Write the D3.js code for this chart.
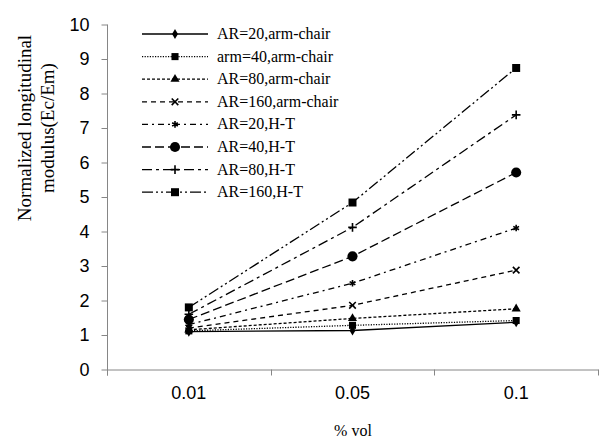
<!DOCTYPE html>
<html><head><meta charset="utf-8">
<script src="https://cdn.jsdelivr.net/npm/d3@7"></script>
<style>body{margin:0;background:#fff}svg{display:block}</style>
</head><body>
<svg id="c" width="600" height="440"></svg>
<script>
const categories = ["0.01", "0.05", "0.1"];
const yTicks = [0,1,2,3,4,5,6,7,8,9,10];
const seriesNames = ["AR=20,arm-chair","arm=40,arm-chair","AR=80,arm-chair","AR=160,arm-chair","AR=20,H-T","AR=40,H-T","AR=80,H-T","AR=160,H-T"];
const ar20Arm  = [1.10, 1.13, 1.37];
const arm40Arm = [1.12, 1.28, 1.42];
const ar80Arm  = [1.15, 1.48, 1.76];
const ar160Arm = [1.20, 1.86, 2.88];
const ar20HT   = [1.30, 2.50, 4.10];
const ar40HT   = [1.45, 3.28, 5.71];
const ar80HT   = [1.60, 4.12, 7.38];
const ar160HT  = [1.80, 4.84, 8.74];
const seriesValues = [ar20Arm, arm40Arm, ar80Arm, ar160Arm, ar20HT, ar40HT, ar80HT, ar160HT];

const styles = [
  {dash:null, sym:d3.symbolDiamond, size:30},
  {dash:"1.2 1.4", sym:d3.symbolSquare, size:50},
  {dash:"3 2", sym:d3.symbolTriangle, size:36},
  {dash:"5 4", sym:d3.symbolTimes, size:30, stroke:true},
  {dash:"6 4 2 4", sym:d3.symbolAsterisk, size:30, stroke:true},
  {dash:"9 4", sym:d3.symbolCircle, size:80},
  {dash:"10 4 3 4", sym:d3.symbolPlus, size:26, stroke:true},
  {dash:"11 3 2 3 2 3", sym:d3.symbolSquare, size:64}
];

const svg = d3.select("#c");
const x = d3.scaleBand().domain(categories).range([107, 598]).padding(0);
const y = d3.scaleLinear().domain([0, 10]).range([369.5, 24.5]);
const cx = c => x(c) + x.bandwidth() / 2;
const axisColor = "#868686";

// Y axis
const yAxis = svg.append("g").attr("transform", "translate(107.5,0)")
  .call(d3.axisLeft(y).tickValues(yTicks).tickSize(6).tickPadding(12).tickSizeOuter(0));
yAxis.select(".domain").attr("stroke", axisColor).attr("d", `M0,${y(10)}V${y(0)+6}`);
yAxis.selectAll(".tick line").attr("stroke", axisColor);
yAxis.selectAll(".tick text").attr("font-family", "Liberation Sans, Arial, sans-serif").attr("font-size", 18).attr("fill", "#000");

// X axis
const xAxis = svg.append("g").attr("transform", `translate(0,${y(0)})`)
  .call(d3.axisBottom(x).tickSize(0).tickPadding(17).tickSizeOuter(0));
xAxis.select(".domain").attr("stroke", axisColor);
xAxis.selectAll(".tick text").attr("font-family", "Liberation Sans, Arial, sans-serif").attr("font-size", 18).attr("fill", "#000");
const bounds = categories.map(c => x(c)).concat([x.range()[1]]);
xAxis.selectAll(".bt").data(bounds).enter().append("line")
  .attr("x1", d => Math.round(d) + 0.5).attr("x2", d => Math.round(d) + 0.5)
  .attr("y1", 0).attr("y2", 6).attr("stroke", axisColor);

// Lines
const line = d3.line().x((d, i) => cx(categories[i])).y(d => y(d));
const g = svg.append("g");
seriesValues.forEach((vals, si) => {
  const st = styles[si];
  g.append("path").attr("d", line(vals)).attr("fill", "none").attr("stroke", "#000")
    .attr("stroke-width", 1.3).attr("stroke-dasharray", st.dash);
  vals.forEach((v, i) => {
    const p = g.append("path").attr("d", d3.symbol(st.sym, st.size)())
      .attr("transform", `translate(${cx(categories[i])},${y(v)})`);
    if (st.stroke) p.attr("fill", "none").attr("stroke", "#000").attr("stroke-width", 1.6);
    else p.attr("fill", "#000");
  });
});

// Legend
const lg = svg.append("g");
seriesNames.forEach((name, i) => {
  const st = styles[i];
  const ly = 34 + i * 22.6;
  lg.append("line").attr("x1", 142).attr("x2", 208).attr("y1", ly).attr("y2", ly)
    .attr("stroke", "#000").attr("stroke-width", 1.3).attr("stroke-dasharray", st.dash);
  const p = lg.append("path").attr("d", d3.symbol(st.sym, st.size)()).attr("transform", `translate(175,${ly})`);
  if (st.stroke) p.attr("fill", "none").attr("stroke", "#000").attr("stroke-width", 1.6);
  else p.attr("fill", "#000");
  lg.append("text").attr("x", 217).attr("y", ly + 5).text(name)
    .attr("font-family", "Liberation Serif, Times New Roman, serif").attr("font-size", 16).attr("fill", "#000");
});

// Axis titles
const yt = svg.append("text").attr("transform", "translate(31,128) rotate(-90)")
  .attr("text-anchor", "middle").attr("font-family", "Liberation Serif, Times New Roman, serif").attr("font-size", 19).attr("fill", "#000");
yt.append("tspan").attr("x", 0).attr("dy", 0).text("Normalized longitudinal");
yt.append("tspan").attr("x", 0).attr("dy", 23).text("modulus(Ec/Em)");
svg.append("text").attr("x", 353).attr("y", 436).attr("text-anchor", "middle")
  .attr("font-family", "Liberation Serif, Times New Roman, serif").attr("font-size", 16).attr("fill", "#000").text("% vol");
</script>
</body></html>
